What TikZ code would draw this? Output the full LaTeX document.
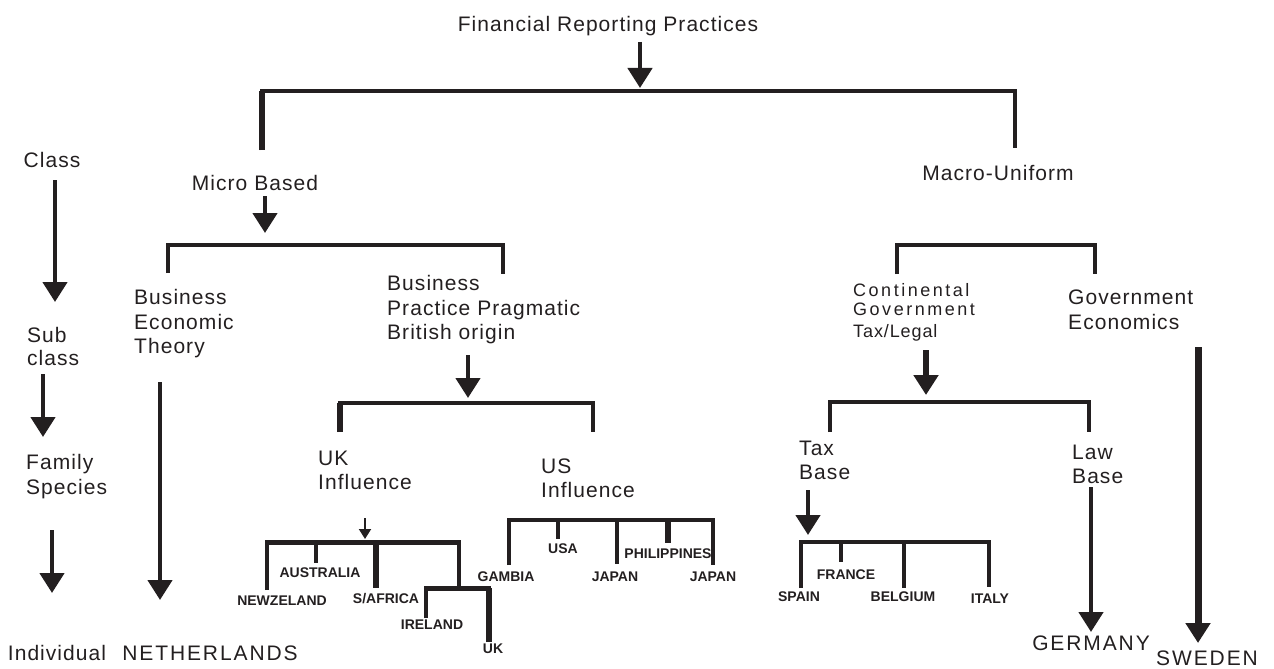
\documentclass[tikz,border=0pt]{standalone}
\usepackage{fontspec}
\setmainfont{Liberation Sans}
\newfontfamily\labf[LetterSpace=5]{Liberation Sans}
\newfontfamily\widef[LetterSpace=9]{Liberation Sans}
\newfontfamily\contf[LetterSpace=14]{Liberation Sans}
\usetikzlibrary{arrows.meta}
\definecolor{ink}{RGB}{35,31,32}
\tikzset{
 lab/.style={font=\labf\fontsize{21}{24.5}\selectfont, inner sep=0pt, text=ink},
 mlab/.style={lab, align=left, anchor=north west},
 wlab/.style={font=\widef\fontsize{21}{24}\selectfont, inner sep=0pt, text=ink, anchor=base},
 ctry/.style={font=\bfseries\fontsize{14}{16}\selectfont, inner sep=0pt, anchor=base, text=ink},
 arr/.style={draw=ink, line width=4.5pt, -{Triangle[width=24pt,length=20pt]}},
 sarr/.style={draw=ink, line width=2pt, -{Triangle[width=12pt,length=10pt]}},
 ln/.style={draw=ink, line width=3.5pt, line join=miter},
}
\begin{document}
\begin{tikzpicture}[x=1pt,y=-1pt]
\useasboundingbox (0,0) rectangle (1274,669);
% ---- title
\node[lab, anchor=base] (fin) at (608,32) {Financial Reporting Practices};
\coordinate (a0s) at (640,42); \coordinate (a0e) at (640,88);
\draw[arr] (a0s) -- (a0e);
% top bracket
\coordinate (k1a) at (262,150); \coordinate (k1b) at (262,91);
\coordinate (k1c) at (1015,91); \coordinate (k1d) at (1015,148);
\draw[ln, line width=4.5pt] (k1a) -- (k1b) -- (k1c) -- (k1d);
\draw[ln, line width=6pt] (k1a) -- (k1b);
% ---- left column
\node[lab, anchor=base] (class) at (52,167.5) {Class};
\coordinate (c1s) at (55,180); \coordinate (c1e) at (55,302);
\draw[arr] (c1s) -- (c1e);
\node[mlab, font=\labf\fontsize{21}{23}\selectfont] (sub) at (27,327.5) {Sub\\class};
\coordinate (c2s) at (43,374); \coordinate (c2e) at (43,437);
\draw[arr] (c2s) -- (c2e);
\node[mlab] (fam) at (26,454.5) {Family\\Species};
\coordinate (c3s) at (52,530); \coordinate (c3e) at (52,593);
\draw[arr] (c3s) -- (c3e);
\node[lab, anchor=base] (ind) at (57,660.5) {Individual};
% ---- micro side
\node[lab, anchor=base] (micro) at (255,190.5) {Micro Based};
\coordinate (m0s) at (265,196); \coordinate (m0e) at (265,233);
\draw[arr] (m0s) -- (m0e);
\coordinate (k2a) at (168,273); \coordinate (k2b) at (168,245);
\coordinate (k2c) at (503,245); \coordinate (k2d) at (503,274);
\draw[ln] (k2a) -- (k2b) -- (k2c) -- (k2d);
\node[mlab] (bet) at (134,289.5) {Business\\Economic\\Theory};
\coordinate (n0s) at (160,382); \coordinate (n0e) at (160,600);
\draw[arr] (n0s) -- (n0e);
\node[wlab] (neth) at (210,660.5) {NETHERLANDS};
\node[mlab] (bpp) at (387,275.5) {Business\\Practice Pragmatic\\British origin};
\coordinate (b0s) at (468,355); \coordinate (b0e) at (468,398);
\draw[arr] (b0s) -- (b0e);
\coordinate (k3a) at (340,432); \coordinate (k3b) at (340,403);
\coordinate (k3c) at (593,403); \coordinate (k3d) at (593,432);
\draw[ln, line width=4.5pt] (k3a) -- (k3b) -- (k3c) -- (k3d);
\draw[ln, line width=6pt] (k3a) -- (k3b);
\node[mlab] (ukin) at (318,450.5) {UK\\Influence};
\node[mlab] (usin) at (541,458.5) {US\\Influence};
% UK countries
\coordinate (u0s) at (365,518); \coordinate (u0e) at (365,539);
\draw[sarr] (u0s) -- (u0e);
\coordinate (k4a) at (267,590); \coordinate (k4b) at (267,542);
\coordinate (k4c) at (459,542); \coordinate (k4d) at (459,588);
\draw[ln, line width=3.5pt] (k4a) -- (k4b) -- (k4c) -- (k4d);
\draw[ln, line width=5pt] (k4b) -- (k4c);
\coordinate (k4e) at (316,563); \coordinate (k4f) at (316,542);
\draw[ln, line width=4.5pt] (k4f) -- (k4e);
\coordinate (k4g) at (376,588); \coordinate (k4h) at (376,542);
\draw[ln, line width=6.5pt] (k4h) -- (k4g);
\coordinate (k5a) at (426,618); \coordinate (k5b) at (426,588);
\coordinate (k5c) at (489,588); \coordinate (k5d) at (489,642);
\draw[ln, line width=3.5pt] (k5a) -- (k5b) -- (k5c) -- (k5d);
\draw[ln, line width=5pt] (k5b) -- (k5c);
\draw[ln, line width=6pt] (k5c) -- (k5d);
\node[ctry] (aus) at (320,577) {AUSTRALIA};
\node[ctry] (nz) at (282,605) {NEWZELAND};
\node[ctry] (saf) at (386,603) {S/AFRICA};
\node[ctry] (ire) at (432,629) {IRELAND};
\node[ctry] (uk) at (493,653) {UK};
% US countries
\coordinate (k6a) at (509,565); \coordinate (k6b) at (509,520);
\coordinate (k6c) at (713,520); \coordinate (k6d) at (713,565);
\draw[ln, line width=4pt] (k6a) -- (k6b) -- (k6c) -- (k6d);
\coordinate (k6e) at (558,520); \coordinate (k6f) at (558,539);
\draw[ln, line width=4pt] (k6e) -- (k6f);
\coordinate (k6g) at (617,520); \coordinate (k6h) at (617,564);
\draw[ln, line width=4pt] (k6g) -- (k6h);
\coordinate (k6i) at (668,520); \coordinate (k6j) at (668,543);
\draw[ln, line width=5.5pt] (k6i) -- (k6j);
\node[ctry] (gam) at (506,581) {GAMBIA};
\node[ctry] (usa) at (563,553) {USA};
\node[ctry] (jap1) at (615,581) {JAPAN};
\node[ctry] (phi) at (668,558) {PHILIPPINES};
\node[ctry] (jap2) at (713,581) {JAPAN};
% ---- macro side
\node[lab, anchor=base] (macro) at (998,180.5) {Macro-Uniform};
\coordinate (k7a) at (897,274); \coordinate (k7b) at (897,245);
\coordinate (k7c) at (1095,245); \coordinate (k7d) at (1095,274);
\draw[ln] (k7a) -- (k7b) -- (k7c) -- (k7d);
\node[mlab, font=\contf\fontsize{18}{19}\selectfont] (cont) at (853,283.5) {Continental\\Government\\[3pt]{\labf\fontsize{18}{19}\selectfont Tax/Legal}};
\node[mlab] (gove) at (1068,290) {Government\\Economics};
\coordinate (x0s) at (926,350); \coordinate (x0e) at (926,395);
\draw[arr, line width=6.5pt] (x0s) -- (x0e);
\coordinate (k8a) at (830,432); \coordinate (k8b) at (830,402);
\coordinate (k8c) at (1089,402); \coordinate (k8d) at (1089,432);
\draw[ln, line width=4pt] (k8a) -- (k8b) -- (k8c) -- (k8d);
\node[mlab] (taxb) at (799,440.5) {Tax\\Base};
\node[mlab] (lawb) at (1072,444.5) {Law\\Base};
\coordinate (t0s) at (808,490); \coordinate (t0e) at (808,535);
\draw[arr] (t0s) -- (t0e);
\coordinate (k9a) at (801,588); \coordinate (k9b) at (801,542);
\coordinate (k9c) at (989,542); \coordinate (k9d) at (989,587);
\draw[ln, line width=4pt] (k9a) -- (k9b) -- (k9c) -- (k9d);
\coordinate (k9e) at (841,542); \coordinate (k9f) at (841,562);
\draw[ln, line width=4pt] (k9e) -- (k9f);
\coordinate (k9g) at (904,542); \coordinate (k9h) at (904,588);
\draw[ln, line width=4pt] (k9g) -- (k9h);
\node[ctry] (fra) at (846,579) {FRANCE};
\node[ctry] (spa) at (799,601) {SPAIN};
\node[ctry] (bel) at (903,601) {BELGIUM};
\node[ctry] (ita) at (990,603) {ITALY};
\coordinate (l0s) at (1091,487); \coordinate (l0e) at (1091,632);
\draw[arr] (l0s) -- (l0e);
\node[wlab] (ger) at (1091,650) {GERMANY};
\coordinate (s0s) at (1198,347); \coordinate (s0e) at (1198,643);
\draw[arr, line width=7pt] (s0s) -- (s0e);
\node[wlab] (swe) at (1207,665) {SWEDEN};
\end{tikzpicture}
\end{document}
